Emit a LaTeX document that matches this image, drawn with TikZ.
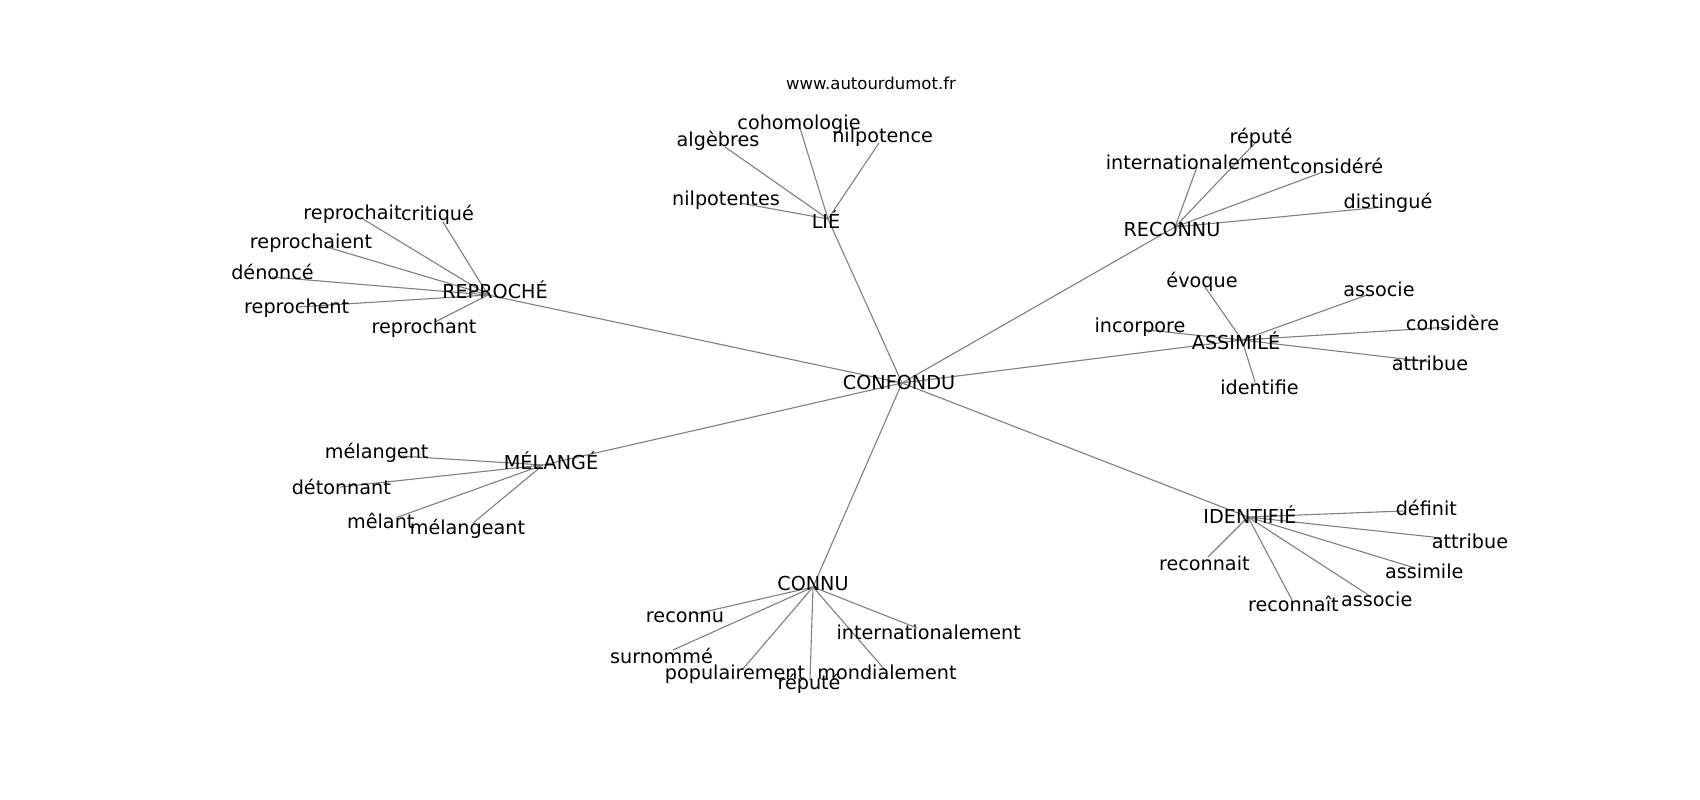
\documentclass[tikz,border=0pt]{standalone}
\usepackage{fontspec}
\setmainfont{DejaVu Sans}
\definecolor{edgegray}{RGB}{128,128,128}
\begin{document}
\begin{tikzpicture}[x=1pt,y=-1pt,
  lbl/.style={inner sep=0pt, text=black, font=\fontsize{19.2}{23}\selectfont},
  ttl/.style={inner sep=0pt, text=black, font=\fontsize{16.5}{20}\selectfont},
  edge/.style={draw=edgegray, line width=1.1pt}]
\fill[white] (0,0) rectangle (1700,800);
\useasboundingbox (0,0) rectangle (1700,800);
% hub points
\coordinate (h-confondu) at (902,383);
\coordinate (h-reproche) at (488,295);
\coordinate (h-lie) at (828,219);
\coordinate (h-reconnu) at (1175,227);
\coordinate (h-assimile) at (1242,340);
\coordinate (h-melange) at (543,465);
\coordinate (h-connu) at (813,587);
\coordinate (h-identifie) at (1248,517);
% leaf points
\coordinate (e-reprochait) at (363,219);
\coordinate (e-critique) at (443,222);
\coordinate (e-reprochaient) at (330,248);
\coordinate (e-denonce) at (272,277);
\coordinate (e-reprochent) at (297,307);
\coordinate (e-reprochant) at (435,322);
\coordinate (e-cohomologie) at (800,128);
\coordinate (e-algebres) at (725,147);
\coordinate (e-nilpotence) at (879,143);
\coordinate (e-nilpotentes) at (740,203);
\coordinate (e-repute1) at (1255,143);
\coordinate (e-internat1) at (1197,167);
\coordinate (e-considere1) at (1323,172);
\coordinate (e-distingue) at (1383,207);
\coordinate (e-evoque) at (1205,287);
\coordinate (e-associe1) at (1367,295);
\coordinate (e-incorpore) at (1147,330);
\coordinate (e-considere2) at (1450,327);
\coordinate (e-attribue1) at (1430,362);
\coordinate (e-identifie) at (1255,382);
\coordinate (e-melangent) at (400,456);
\coordinate (e-detonnant) at (340,487);
\coordinate (e-melant) at (398,517);
\coordinate (e-melangeant) at (473,523);
\coordinate (e-reconnu) at (695,614);
\coordinate (e-surnomme) at (673,650);
\coordinate (e-populairement) at (742,670);
\coordinate (e-repute2) at (810,680);
\coordinate (e-mondialement) at (885,670);
\coordinate (e-internat2) at (917,628);
\coordinate (e-definit) at (1403,511);
\coordinate (e-attribue2) at (1442,538);
\coordinate (e-reconnait) at (1208,557);
\coordinate (e-assimile) at (1415,568);
\coordinate (e-reconnait2) at (1292,600);
\coordinate (e-associe2) at (1370,596);
% edges
\foreach \h in {reproche,lie,reconnu,assimile,melange,connu,identifie}
  \draw[edge] (h-confondu) -- (h-\h);
\foreach \e in {reprochait,critique,reprochaient,denonce,reprochent,reprochant}
  \draw[edge] (h-reproche) -- (e-\e);
\foreach \e in {cohomologie,algebres,nilpotence,nilpotentes}
  \draw[edge] (h-lie) -- (e-\e);
\foreach \e in {repute1,internat1,considere1,distingue}
  \draw[edge] (h-reconnu) -- (e-\e);
\foreach \e in {evoque,associe1,incorpore,considere2,attribue1,identifie}
  \draw[edge] (h-assimile) -- (e-\e);
\foreach \e in {melangent,detonnant,melant,melangeant}
  \draw[edge] (h-melange) -- (e-\e);
\foreach \e in {reconnu,surnomme,populairement,repute2,mondialement,internat2}
  \draw[edge] (h-connu) -- (e-\e);
\foreach \e in {definit,attribue2,reconnait,assimile,reconnait2,associe2}
  \draw[edge] (h-identifie) -- (e-\e);
% title
\node[ttl] (title) at (871,83) {www.autourdumot.fr};
% hub labels
\node[lbl] (l-confondu) at (899,383) {CONFONDU};
\node[lbl] (l-reproche) at (495,290) {REPROCHÉ};
\node[lbl] (l-lie) at (826,220) {LIÉ};
\node[lbl] (l-reconnu) at (1172,230) {RECONNU};
\node[lbl] (l-assimile) at (1236,341) {ASSIMILÉ};
\node[lbl] (l-melange) at (551,461) {MÉLANGÉ};
\node[lbl] (l-connu) at (813,584) {CONNU};
\node[lbl] (l-identifie) at (1250,515) {IDENTIFIÉ};
% leaf labels
\node[lbl] (t-reprochait) at (352.5,214) {reprochait};
\node[lbl] (t-critique) at (437.5,215) {critiqué};
\node[lbl] (t-reprochaient) at (311,243) {reprochaient};
\node[lbl] (t-denonce) at (272.5,272) {dénoncé};
\node[lbl] (t-reprochent) at (296.7,308) {reprochent};
\node[lbl] (t-reprochant) at (424,328) {reprochant};
\node[lbl] (t-cohomologie) at (799,124) {cohomologie};
\node[lbl] (t-algebres) at (718,141) {algèbres};
\node[lbl] (t-nilpotence) at (882.6,137) {nilpotence};
\node[lbl] (t-nilpotentes) at (726,200) {nilpotentes};
\node[lbl] (t-repute1) at (1261,138) {réputé};
\node[lbl] (t-internat1) at (1198,162) {internationalement};
\node[lbl] (t-considere1) at (1336.5,166) {considéré};
\node[lbl] (t-distingue) at (1388,203) {distingué};
\node[lbl] (t-evoque) at (1202,282) {évoque};
\node[lbl] (t-associe1) at (1379,289) {associe};
\node[lbl] (t-incorpore) at (1140,327) {incorpore};
\node[lbl] (t-considere2) at (1452.5,323) {considère};
\node[lbl] (t-attribue1) at (1430,363) {attribue};
\node[lbl] (t-identifie) at (1259.5,387) {identifie};
\node[lbl] (t-melangent) at (376.7,453) {mélangent};
\node[lbl] (t-detonnant) at (341.3,487) {détonnant};
\node[lbl] (t-melant) at (380.8,521) {mêlant};
\node[lbl] (t-melangeant) at (467.5,529) {mélangeant};
\node[lbl] (t-reconnu) at (685,617) {reconnu};
\node[lbl] (t-surnomme) at (661.5,656) {surnommé};
\node[lbl] (t-populairement) at (735,674) {populairement};
\node[lbl] (t-repute2) at (809,684) {réputé};
\node[lbl] (t-mondialement) at (887,672) {mondialement};
\node[lbl] (t-internat2) at (928.7,632) {internationalement};
\node[lbl] (t-definit) at (1426.3,508) {définit};
\node[lbl] (t-attribue2) at (1470,541) {attribue};
\node[lbl] (t-reconnait) at (1204.3,563) {reconnait};
\node[lbl] (t-assimile) at (1424.3,571) {assimile};
\node[lbl] (t-reconnait2) at (1293.3,604) {reconnaît};
\node[lbl] (t-associe2) at (1376.7,599) {associe};
\end{tikzpicture}
\end{document}
